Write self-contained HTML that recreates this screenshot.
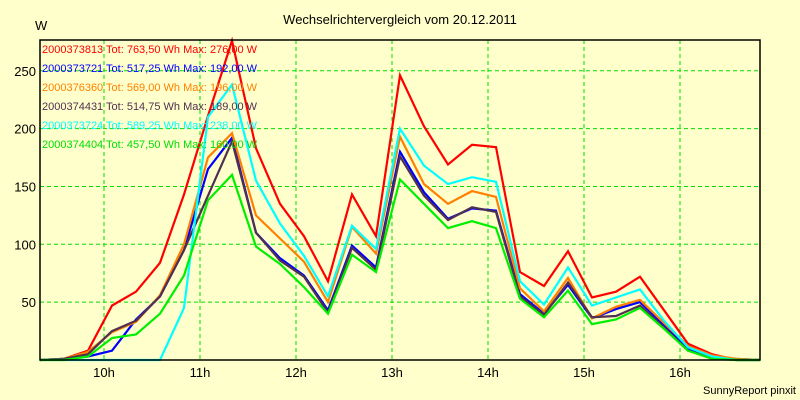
<!DOCTYPE html>
<html><head><meta charset="utf-8"><style>
html,body{margin:0;padding:0;background:#FFFFCC;}
svg{display:block;font-family:"Liberation Sans",sans-serif;}
</style></head><body>
<svg id="chart" width="800" height="400" viewBox="0 0 800 400">
<rect x="0" y="0" width="800" height="400" fill="#FFFFCC"/>
<text x="400" y="24" font-size="13" text-anchor="middle" fill="#000">Wechselrichtervergleich vom 20.12.2011</text>
<text x="35" y="30" font-size="13" fill="#000">W</text>
<text x="796" y="394" font-size="11" text-anchor="end" fill="#000">SunnyReport pinxit</text>
<g id="grid"></g><g id="series"></g><g id="axes"></g><g id="legend"></g>
</svg>
<script>
const seriesNames=["2000373813","2000373721","2000376360","2000374431","2000373724","2000374404"];
const seriesColors=["#FF0000","#0000FF","#FF8000","#503050","#00FFFF","#00EE00"];
const legendTexts=["Tot: 763,50 Wh Max: 276,00 W","Tot: 517,25 Wh Max: 192,00 W","Tot: 569,00 Wh Max: 196,00 W","Tot: 514,75 Wh Max: 189,00 W","Tot: 589,25 Wh Max: 238,00 W","Tot: 457,50 Wh Max: 160,00 W"];
const startMinute=9*60+20;
const stepMinutes=15;
const hourTicks=[10,11,12,13,14,15,16];
const yTicks=[50,100,150,200,250];
const red=[0,1,8,47,59,84,143,211,276,183,135,107,68,143,107,246,202,169,186,184,76,64,94,54,59,72,43,14,5,0,0];
const blue=[0,1,3,8,35,55,95,165,192,110,88,73,43,99,80,180,145,122,131,129,57,40,65,36,44,50,30,10,3,1,0];
const orange=[0,1,7,24,33,56,100,175,196,125,105,85,50,115,92,193,152,135,146,141,62,42,71,36,46,52,32,12,4,1,0];
const purple=[0,1,5,25,34,55,95,142,189,110,86,72,41,97,78,176,142,121,132,128,55,39,67,37,38,47,28,8,2,0,0];
const cyan=[0,0,0,0,0,0,45,210,238,155,118,90,55,116,96,200,168,152,158,154,68,48,80,47,54,61,34,11,3,0,0];
const green=[0,0,3,19,22,40,73,138,160,98,83,63,40,91,76,156,135,114,120,114,53,37,60,31,35,45,27,8,1,0,0];
const allSeries=[red,blue,orange,purple,cyan,green];

const L=40,R=760,T=40,B=360;
const xMin=startMinute,xMax=startMinute+30*stepMinutes;
function xs(min){return L+(min-xMin)/(xMax-xMin)*(R-L);}
function ys(v){return B-v*1.157;}
const NS="http://www.w3.org/2000/svg";
function mk(tag,parent,attrs){const e=document.createElementNS(NS,tag);for(const k in attrs)e.setAttribute(k,attrs[k]);parent.appendChild(e);return e;}
const grid=document.getElementById('grid'),axes=document.getElementById('axes'),ser=document.getElementById('series'),leg=document.getElementById('legend');
hourTicks.forEach(h=>{const x=xs(h*60);
 const l=mk('line',grid,{x1:x,y1:T,x2:x,y2:B,stroke:'#00DD00','stroke-dasharray':'4,3','stroke-width':1});
 
 
 const t=mk('text',axes,{x:x,y:B+17,'font-size':13,'text-anchor':'middle',fill:'#000'});t.textContent=h+'h';
 
 
});
yTicks.forEach(v=>{const y=ys(v);
 const l=mk('line',grid,{x1:L,y1:y,x2:R,y2:y,stroke:'#00DD00','stroke-dasharray':'4,3','stroke-width':1});
 
 
 const t=mk('text',axes,{x:L-4,y:y+5,'font-size':13,'text-anchor':'end',fill:'#000'});t.textContent=v;
 
 
});
const frame=mk('rect',axes,{x:L,y:T,width:R-L,height:B-T,fill:'none',stroke:'#000','stroke-width':1.5});


allSeries.forEach((arr,i)=>{
 const pts=arr.map((v,k)=>xs(startMinute+k*stepMinutes).toFixed(1)+','+ys(v).toFixed(1)).join(' ');
 const p=mk('polyline',ser,{points:pts,fill:'none',stroke:seriesColors[i],'stroke-width':2.2,'stroke-linejoin':'miter'});
 
 
});
seriesNames.forEach((n,i)=>{
 const t=mk('text',leg,{x:42,y:53+i*19,'font-size':11,fill:seriesColors[i]==='#00EE00'?'#00DD00':seriesColors[i]});
 t.textContent=n+' '+legendTexts[i];
 
 
});
</script>
</body></html>
